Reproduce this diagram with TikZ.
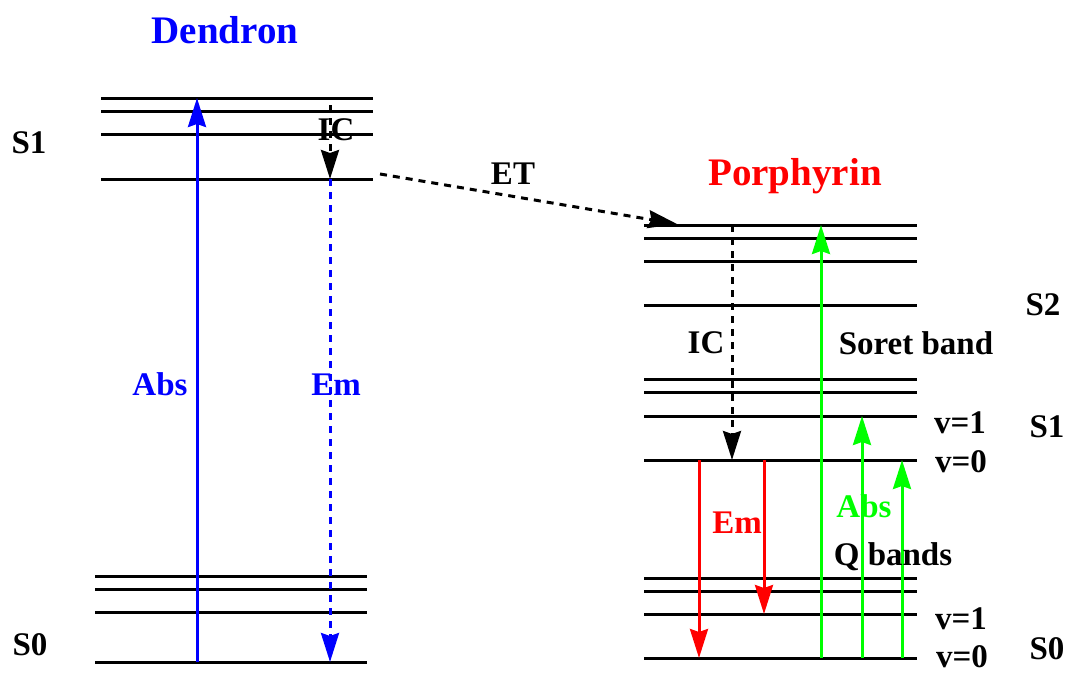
\documentclass[tikz,border=0pt]{standalone}
\usepackage{fontspec}
\setmainfont{Liberation Serif}
\usetikzlibrary{arrows.meta}
\definecolor{pblue}{RGB}{0,0,255}
\definecolor{pred}{RGB}{255,0,0}
\definecolor{pgreen}{RGB}{0,255,0}
\tikzset{
  lvl/.style={line width=3pt, black},
  tip/.style={-{Stealth[length=29pt,width=18pt,inset=3pt]}},
  trans/.style={line width=3pt, tip},
  dashtrans/.style={line width=3pt, tip, dash pattern=on 7pt off 6pt},
  lbl/.style={font=\fontsize{33}{38}\selectfont\bfseries, anchor=base, inner sep=0pt},
  ttl/.style={font=\fontsize{39}{44}\selectfont\bfseries, anchor=base, inner sep=0pt},
}
\begin{document}
\begin{tikzpicture}[x=1pt, y=-1pt]
\useasboundingbox (0,0) rectangle (1069,673);

% Dendron levels
\foreach \yy in {98,111,134,179} \draw[lvl] (101,\yy) -- (373,\yy);
\foreach \yy in {576,589,612,662} \draw[lvl] (95,\yy) -- (367,\yy);

% Porphyrin levels
\foreach \yy in {225,238,261,305,379,392,416,460,578,591,614,658}
  \draw[lvl] (644,\yy) -- (917,\yy);

% transition end points
\coordinate (dAbsLo) at (197,662);
\coordinate (dAbsHi) at (197,98);
\coordinate (dICtop) at (330,105);
\coordinate (dS1) at (330,179);
\coordinate (dS0) at (330,662);
\coordinate (etStart) at (380,174);
\coordinate (etEnd) at (677,224);
\coordinate (pICtop) at (732,225);
\coordinate (pICbot) at (732,460);
\coordinate (pEmAtop) at (699,460);
\coordinate (pEmAbot) at (699,658);
\coordinate (pEmBtop) at (764,460);
\coordinate (pEmBbot) at (764,614);
\coordinate (pSorLo) at (821,658);
\coordinate (pSorHi) at (821,225);
\coordinate (pQaLo) at (862,658);
\coordinate (pQaHi) at (862,416);
\coordinate (pQbLo) at (902,658);
\coordinate (pQbHi) at (902,460);

% Dendron transitions
\draw[trans, pblue] (dAbsLo) -- (dAbsHi);
\draw[dashtrans, black] (dICtop) -- (dS1);
\draw[dashtrans, pblue] (dS1) -- (dS0);

% energy transfer
\draw[dashtrans, black] (etStart) -- (etEnd);

% Porphyrin transitions
\draw[dashtrans, black] (pICtop) -- (pICbot);
\draw[trans, pred] (pEmAtop) -- (pEmAbot);
\draw[trans, pred] (pEmBtop) -- (pEmBbot);
\draw[trans, pgreen] (pSorLo) -- (pSorHi);
\draw[trans, pgreen] (pQaLo) -- (pQaHi);
\draw[trans, pgreen] (pQbLo) -- (pQbHi);

% titles
\node[ttl, text=pblue] (tDen) at (225,43) {Dendron};
\node[ttl, text=pred] (tPor) at (795,185) {Porphyrin};

% Dendron labels
\node[lbl] (dS1lbl) at (29,153) {S1};
\node[lbl] (dS0lbl) at (30,655) {S0};
\node[lbl] (dIClbl) at (336,140) {IC};
\node[lbl, text=pblue] (dAbslbl) at (160,395) {Abs};
\node[lbl, text=pblue] (dEmlbl) at (336,395) {Em};
\node[lbl] (ETlbl) at (513,184) {ET};

% Porphyrin labels
\node[lbl] (pS2lbl) at (1043,315) {S2};
\node[lbl] (pS1lbl) at (1047,437) {S1};
\node[lbl] (pS0lbl) at (1047,659) {S0};
\node[lbl] (pIClbl) at (706,353) {IC};
\node[lbl] (sorlbl) at (916,354) {Soret band};
\node[lbl] (v1a) at (960,433) {v=1};
\node[lbl] (v0a) at (961,472) {v=0};
\node[lbl, text=pred] (pEmlbl) at (737,533) {Em};
\node[lbl, text=pgreen] (pAbslbl) at (864,517) {Abs};
\node[lbl] (qlbl) at (893,565) {Q bands};
\node[lbl] (v1b) at (961,629) {v=1};
\node[lbl] (v0b) at (962,667) {v=0};
\end{tikzpicture}
\end{document}
